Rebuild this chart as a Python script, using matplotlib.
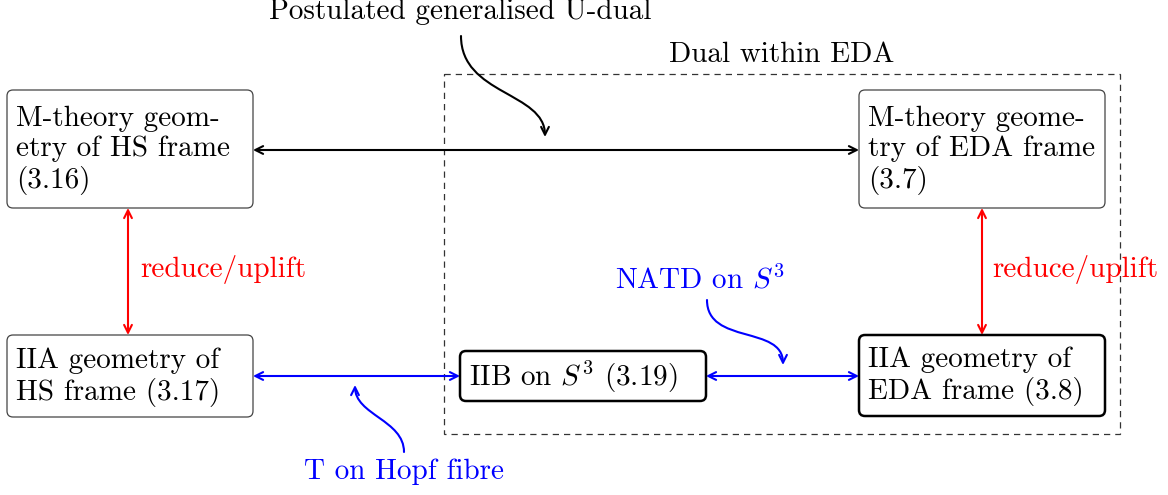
import matplotlib
matplotlib.use("Agg")
import matplotlib.pyplot as plt
from matplotlib.patches import FancyBboxPatch, FancyArrowPatch, Rectangle
from matplotlib.path import Path

plt.rcParams['font.family'] = 'serif'
plt.rcParams['font.serif'] = ['cmr10']
plt.rcParams['mathtext.fontset'] = 'cm'
plt.rcParams['axes.unicode_minus'] = False

# node labels
node_labels = [
    "M-theory geom-\netry of HS frame\n(3.16)",
    "M-theory geome-\ntry of EDA frame\n(3.7)",
    "IIA geometry of\nHS frame (3.17)",
    "IIB on $S^3$ (3.19)",
    "IIA geometry of\nEDA frame (3.8)",
]
edge_labels = ["Postulated generalised U-dual", "reduce/uplift", "reduce/uplift",
               "NATD on $S^3$", "T on Hopf fibre"]
group_label = "Dual within EDA"

# layout (pixel coords, y down): x0, y0, x1, y1, thick
boxes = [
    (7, 90, 253, 208, False),
    (859, 90, 1105, 208, False),
    (7, 335, 253, 417, False),
    (460, 351, 706, 401, True),
    (859, 335, 1105, 416, True),
]

fig = plt.figure(figsize=(11.68, 4.95), dpi=100)
ax = fig.add_axes([0, 0, 1, 1])
ax.set_xlim(0, 1168)
ax.set_ylim(495, 0)
ax.axis('off')

fs = 21

# dashed group
ax.add_patch(Rectangle((444, 74), 676, 360, fill=False, ls=(0, (5, 4)), lw=0.9, ec='#333333'))
ax.text(782, 55, group_label, fontsize=fs, ha='center', va='center')

for (x0, y0, x1, y1, thick), lab in zip(boxes, node_labels):
    ax.add_patch(FancyBboxPatch((x0, y0), x1 - x0, y1 - y0,
                                boxstyle="round,pad=0,rounding_size=6",
                                fc='white', ec='black' if thick else '#444444',
                                lw=1.8 if thick else 0.9, zorder=3))
    ax.text(x0 + 9, (y0 + y1) / 2 + 1, lab, fontsize=fs, ha='left', va='center',
            linespacing=1.17, zorder=4)

def dbl(p, q, color):
    ax.add_patch(FancyArrowPatch(p, q, arrowstyle='<->', mutation_scale=14,
                                 color=color, lw=1.5, shrinkA=0, shrinkB=0, zorder=2))

def curve(pts, color):
    path = Path(pts, [Path.MOVETO, Path.CURVE4, Path.CURVE4, Path.CURVE4])
    ax.add_patch(FancyArrowPatch(path=path, arrowstyle='->', mutation_scale=14,
                                 color=color, lw=1.5, shrinkA=0, shrinkB=0, zorder=2))

# black U-dual
dbl((253, 150), (859, 150), 'black')
ax.text(460, 12, edge_labels[0], fontsize=fs, ha='center', va='center')
curve([(461, 36), (461, 95), (545, 92), (545, 137)], 'black')

# red reduce/uplift
dbl((128, 208), (128, 335), 'red')
ax.text(140, 270, edge_labels[1], fontsize=fs, ha='left', va='center', color='red')
dbl((982, 208), (982, 335), 'red')
ax.text(992, 270, edge_labels[2], fontsize=fs, ha='left', va='center', color='red')

# blue
dbl((253, 376), (460, 376), 'blue')
dbl((706, 376), (859, 376), 'blue')
ax.text(700, 280, edge_labels[3], fontsize=fs, ha='center', va='center', color='blue')
curve([(707, 300), (707, 345), (783, 325), (783, 365)], 'blue')
ax.text(404, 472, edge_labels[4], fontsize=fs, ha='center', va='center', color='blue')
curve([(404, 452), (404, 420), (355, 415), (355, 385)], 'blue')

fig.savefig('out.png', dpi=100)
